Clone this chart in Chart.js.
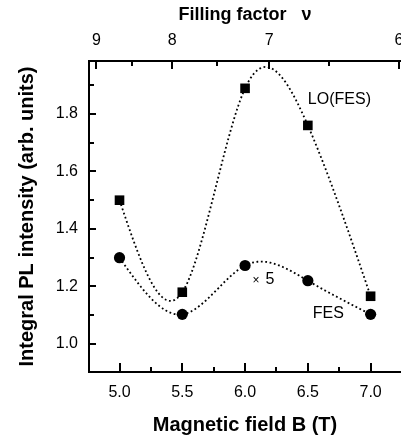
<!DOCTYPE html>
<html>
<head>
<meta charset="utf-8">
<script src="https://cdn.jsdelivr.net/npm/chart.js@4"></script>
<style>
  html, body { margin: 0; padding: 0; background: #fff; }
  #wrap { width: 401px; height: 438px; }
</style>
</head>
<body>
<div id="wrap"><canvas id="plChart" width="401" height="438"></canvas></div>
<script>
// values
const fieldB = [5.0, 5.5, 6.0, 6.5, 7.0];
const loFes = [1.50, 1.18, 1.889, 1.76, 1.166];
const fes = [1.30, 1.103, 1.273, 1.22, 1.103];

const bTicks = [5.0, 5.25, 5.5, 5.75, 6.0, 6.25, 6.5, 6.75, 7.0];
const yTicks = [1.0, 1.1, 1.2, 1.3, 1.4, 1.5, 1.6, 1.7, 1.8, 1.9];
const nuTicks = [9, 8.5, 8, 7.5, 7, 6.5, 6];
const nuB = 43.35; // filling factor * B

const notes = [
  { text: 'LO(FES)', x: 6.50, y: 1.849 },
  { text: 'FES', x: 6.539, y: 1.104 },
];
const timesNote = { x: 6.06, y: 1.224, factor: '5' };

const FONT = '"Liberation Sans", Arial, Helvetica, sans-serif';
Chart.defaults.font.family = FONT;
Chart.defaults.color = '#000';

// natural cubic spline, second derivatives
function splineM(xs, ys) {
  const n = xs.length;
  const m = new Array(n).fill(0);
  if (n < 3) return m;
  const a = [], b = [], c = [], d = [];
  for (let i = 1; i < n - 1; i++) {
    const h0 = xs[i] - xs[i - 1], h1 = xs[i + 1] - xs[i];
    a.push(h0); b.push(2 * (h0 + h1)); c.push(h1);
    d.push(6 * ((ys[i + 1] - ys[i]) / h1 - (ys[i] - ys[i - 1]) / h0));
  }
  const k = b.length;
  for (let i = 1; i < k; i++) {
    const w = a[i] / b[i - 1];
    b[i] -= w * c[i - 1];
    d[i] -= w * d[i - 1];
  }
  const sol = new Array(k);
  sol[k - 1] = d[k - 1] / b[k - 1];
  for (let i = k - 2; i >= 0; i--) sol[i] = (d[i] - c[i] * sol[i + 1]) / b[i];
  for (let i = 0; i < k; i++) m[i + 1] = sol[i];
  return m;
}

const splinePlugin = {
  id: 'splines',
  beforeDatasetsDraw(chart) {
    const { ctx, chartArea: ca } = chart;
    const xs_ = chart.scales.x, ys_ = chart.scales.y;
    ctx.save();
    ctx.beginPath();
    ctx.rect(ca.left, ca.top, ca.right - ca.left, ca.bottom - ca.top);
    ctx.clip();
    ctx.strokeStyle = '#000';
    ctx.lineWidth = 1.8;
    ctx.setLineDash([1.8, 2.6]);
    chart.data.datasets.forEach(ds => {
      const xs = ds.data.map(p => p.x), ys = ds.data.map(p => p.y);
      const m = splineM(xs, ys);
      ctx.beginPath();
      for (let i = 0; i < xs.length - 1; i++) {
        const h = xs[i + 1] - xs[i];
        for (let s = 0; s <= 50; s++) {
          const t = xs[i] + h * s / 50;
          const A = (xs[i + 1] - t) / h, B = (t - xs[i]) / h;
          const v = A * ys[i] + B * ys[i + 1] + ((A * A * A - A) * m[i] + (B * B * B - B) * m[i + 1]) * h * h / 6;
          const px = xs_.getPixelForValue(t), py = ys_.getPixelForValue(v);
          if (i === 0 && s === 0) ctx.moveTo(px, py); else ctx.lineTo(px, py);
        }
      }
      ctx.stroke();
    });
    ctx.restore();
  }
};

const tickPlugin = {
  id: 'inTicks',
  afterDraw(chart) {
    const { ctx, chartArea: ca, scales } = chart;
    ctx.save();
    ctx.setLineDash([]);
    ctx.lineCap = 'butt';
    ctx.globalAlpha = 1;
    ctx.strokeStyle = '#000';
    ctx.lineWidth = 2;
    ctx.beginPath();
    scales.x.ticks.forEach(t => {
      const px = Math.round(scales.x.getPixelForValue(t.value));
      const len = t.label ? 9 : 5;
      ctx.moveTo(px, ca.bottom); ctx.lineTo(px, ca.bottom - len);
    });
    scales.x2.ticks.forEach(t => {
      const px = Math.round(scales.x2.getPixelForValue(t.value));
      const len = t.label ? 8 : 5;
      ctx.moveTo(px, ca.top); ctx.lineTo(px, ca.top + len);
    });
    scales.y.ticks.forEach(t => {
      const py = Math.round(scales.y.getPixelForValue(t.value));
      const len = t.label ? 7 : 5;
      ctx.moveTo(ca.left, py); ctx.lineTo(ca.left + len, py);
    });
    ctx.stroke();

    // text notes
    ctx.fillStyle = '#000';
    ctx.textBaseline = 'middle';
    ctx.textAlign = 'left';
    ctx.font = '16px ' + FONT;
    notes.forEach(n => {
      ctx.fillText(n.text, scales.x.getPixelForValue(n.x), scales.y.getPixelForValue(n.y));
    });
    const tx = scales.x.getPixelForValue(timesNote.x), ty = scales.y.getPixelForValue(timesNote.y);
    ctx.font = '12px ' + FONT;
    ctx.fillText('\u00d7', tx, ty + 1);
    ctx.font = '16px ' + FONT;
    ctx.fillText(timesNote.factor, tx + 13, ty);
    ctx.restore();
  }
};

const axisFont = { family: FONT, size: 16 };
const noPad = s => { s.paddingLeft = 0; s.paddingRight = 0; s.paddingTop = 0; s.paddingBottom = 0; };

new Chart(document.getElementById('plChart'), {
  type: 'scatter',
  data: {
    datasets: [
      {
        label: 'LO(FES)',
        data: fieldB.map((b, i) => ({ x: b, y: loFes[i] })),
        pointStyle: 'rect',
        pointRadius: 6.8,
        backgroundColor: '#000',
        borderColor: '#000',
        borderWidth: 0,
        showLine: false
      },
      {
        label: 'FES',
        data: fieldB.map((b, i) => ({ x: b, y: fes[i] })),
        pointStyle: 'circle',
        pointRadius: 5.6,
        backgroundColor: '#000',
        borderColor: '#000',
        borderWidth: 0,
        showLine: false
      }
    ]
  },
  options: {
    responsive: false,
    animation: false,
    devicePixelRatio: 1,
    layout: { padding: 0, autoPadding: false },
    plugins: { legend: { display: false }, tooltip: { enabled: false } },
    scales: {
      x: {
        type: 'linear',
        position: 'bottom',
        min: 4.757,
        max: 7.242,
        afterBuildTicks: s => { s.ticks = bTicks.map(v => ({ value: v })); },
        afterFit: s => { s.height = 66; noPad(s); },
        grid: { display: false, drawTicks: false },
        border: { display: true, color: '#000', width: 2 },
        ticks: {
          autoSkip: false, maxRotation: 0, padding: 11, color: '#000', font: axisFont,
          callback: v => (Math.abs(v * 2 - Math.round(v * 2)) < 1e-6 ? v.toFixed(1) : '')
        },
        title: { display: true, text: 'Magnetic field B (T)', color: '#000', font: { family: FONT, size: 20, weight: 'bold' }, padding: { top: 0, bottom: 1 } }
      },
      x2: {
        type: 'linear',
        position: 'top',
        min: 4.757,
        max: 7.242,
        afterBuildTicks: s => { s.ticks = nuTicks.map(n => ({ value: nuB / n })); },
        afterFit: s => { s.height = 61; noPad(s); },
        grid: { display: false, drawTicks: false },
        border: { display: true, color: '#000', width: 2 },
        ticks: {
          autoSkip: false, maxRotation: 0, padding: 11, color: '#000', font: axisFont,
          callback: v => {
            const n = nuB / v;
            return Math.abs(n - Math.round(n)) < 1e-6 ? String(Math.round(n)) : '';
          }
        },
        title: { display: true, text: 'Filling factor   \u03bd', color: '#000', font: { family: FONT, size: 18, weight: 'bold' }, padding: { top: 4, bottom: 0 } }
      },
      y: {
        type: 'linear',
        position: 'left',
        min: 0.9026,
        max: 1.984,
        afterBuildTicks: s => { s.ticks = yTicks.map(v => ({ value: v })); },
        afterFit: s => { s.width = 89; noPad(s); },
        grid: { display: false, drawTicks: false },
        border: { display: true, color: '#000', width: 2 },
        ticks: {
          autoSkip: false, padding: 11, color: '#000', font: axisFont,
          callback: v => (Math.round(v * 10) % 2 === 0 ? v.toFixed(1) : '')
        },
        title: { display: true, text: 'Integral PL intensity (arb. units)', color: '#000', font: { family: FONT, size: 20, weight: 'bold' }, padding: { top: 15, bottom: 0 } }
      }
    }
  },
  plugins: [splinePlugin, tickPlugin]
});
</script>
</body>
</html>
